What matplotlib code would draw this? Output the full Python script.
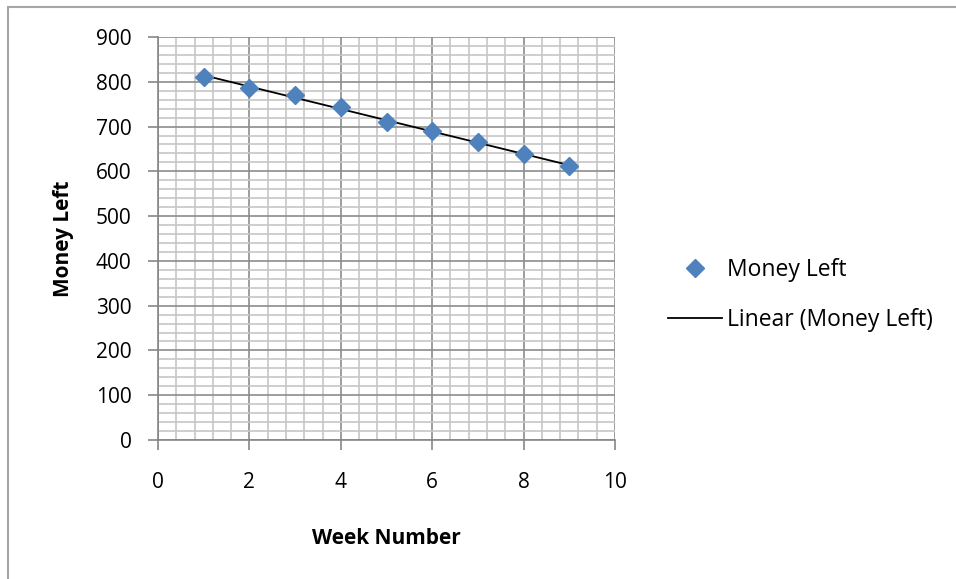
import numpy as np
import matplotlib.pyplot as plt
from matplotlib.patches import Rectangle
from matplotlib.lines import Line2D

plt.rcParams['font.family'] = ['Open Sans', 'DejaVu Sans']

# datos
semanas = [1, 2, 3, 4, 5, 6, 7, 8, 9]
dinero = [810, 787, 771, 744, 711, 689, 665, 638, 612]

xticks = [0, 2, 4, 6, 8, 10]
yticks = [0, 100, 200, 300, 400, 500, 600, 700, 800, 900]

azul = '#4F81BD'
gris_eje = '#868686'
tam = 15

fig = plt.figure(figsize=(9.56, 5.79), dpi=100)
ax = fig.add_axes([158/956, 1 - 440/579, (615 - 158)/956, (440 - 37)/579])

# borde exterior del grafico (recortado a la derecha y abajo)
fig.patches.append(Rectangle((8/956, -0.1), 1.2, 1 - 7/579 + 0.1,
                             transform=fig.transFigure, fill=False,
                             edgecolor='#a6a6a6', lw=1.5))

# linea de tendencia (ajuste lineal como en Excel)
a, b = np.polyfit(semanas, dinero, 1)
xt = np.array([semanas[0], semanas[-1]])
ax.plot(xt, a*xt + b, color='black', lw=1.3, zorder=3)
ax.plot(semanas, dinero, ls='none', marker='D', ms=9.5, color=azul,
        mec=azul, zorder=4)

ax.set_xlim(0, 10)
ax.set_ylim(0, 900)
ax.set_xticks(xticks)
ax.set_yticks(yticks)
ax.set_xticks(np.arange(0, 10.01, 0.4), minor=True)
ax.set_yticks(np.arange(0, 901, 20), minor=True)

ax.grid(which='major', color='#8c8c8c', lw=1.2)
ax.grid(which='minor', color='#c6c6c6', lw=1.2)
ax.set_axisbelow(True)

for s in ['top', 'right']:
    ax.spines[s].set_visible(False)
for s in ['left', 'bottom']:
    ax.spines[s].set_color(gris_eje)
    ax.spines[s].set_linewidth(1.2)

ax.tick_params(which='major', direction='out', length=7, width=1.2,
               color=gris_eje, labelsize=tam)
ax.tick_params(axis='y', which='major', pad=12)
ax.tick_params(axis='x', which='major', pad=16)
ax.tick_params(which='minor', length=0)

ax.set_xlabel('Week Number', fontsize=tam, fontweight='bold', labelpad=25)
ax.set_ylabel('Money Left', fontsize=tam, fontweight='bold', labelpad=16)

handles = [Line2D([], [], ls='none', marker='D', ms=9.5, color=azul),
           Line2D([], [], color='black', lw=1.3)]
fig.legend(handles, ['Money Left', 'Linear (Money Left)'],
           loc='center left', bbox_to_anchor=(668/956, 1 - 295/579),
           frameon=False, fontsize=16.5, handlelength=2.36,
           handletextpad=0.22, labelspacing=1.17, borderaxespad=0,
           borderpad=0)

fig.savefig('out.png', dpi=100)
